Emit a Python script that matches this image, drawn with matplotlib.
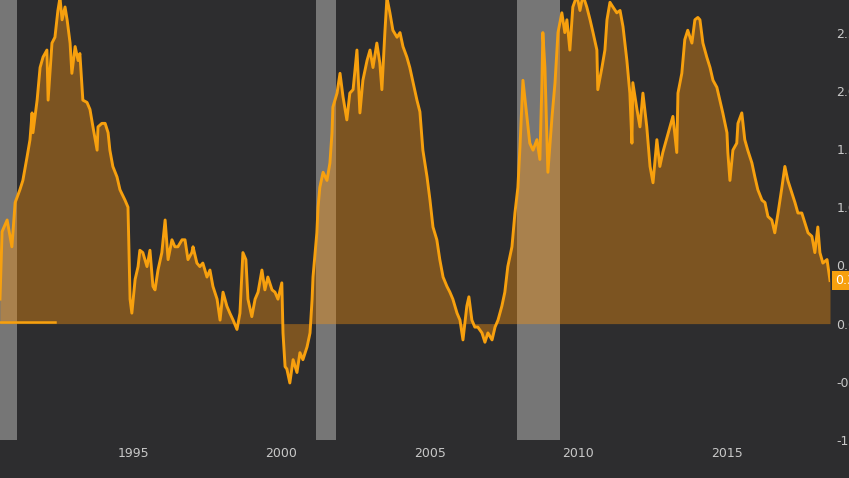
import matplotlib
matplotlib.use("Agg")
import matplotlib.pyplot as plt
import numpy as np

# ---- data (decimal years, 10y-2y spread in percentage points) ----
years = [
    1990.52, 1990.59, 1990.76, 1990.92, 1991.03, 1991.19, 1991.29, 1991.43, 1991.53, 1991.60,
    1991.63, 1991.77, 1991.87, 1991.97, 1992.10, 1992.14, 1992.27, 1992.37, 1992.47, 1992.54,
    1992.61, 1992.71, 1992.78, 1992.88, 1992.94, 1993.05, 1993.15, 1993.21, 1993.31, 1993.45,
    1993.55, 1993.65, 1993.79, 1993.82, 1993.95, 1994.06, 1994.16, 1994.22, 1994.32, 1994.46,
    1994.56, 1994.73, 1994.83, 1994.90, 1994.96, 1995.07, 1995.17,
    1995.23, 1995.33, 1995.47, 1995.57, 1995.67, 1995.74, 1995.84, 1995.97, 1996.08, 1996.18,
    1996.31, 1996.41, 1996.51, 1996.65, 1996.75, 1996.85, 1996.98, 1997.02, 1997.15, 1997.25,
    1997.35, 1997.49, 1997.59, 1997.69, 1997.83, 1997.93, 1998.03, 1998.16, 1998.26, 1998.37,
    1998.50, 1998.60, 1998.70, 1998.80, 1998.87, 1999.00, 1999.11, 1999.21, 1999.34, 1999.44,
    1999.54, 1999.68, 1999.78, 1999.88, 2000.01, 2000.05, 2000.12,
    2000.18, 2000.28, 2000.39, 2000.52, 2000.62, 2000.72, 2000.86, 2000.96, 2001.03, 2001.06,
    2001.13, 2001.19, 2001.23, 2001.29, 2001.40, 2001.53, 2001.63, 2001.70, 2001.73, 2001.87,
    2001.97, 2002.07, 2002.20, 2002.30, 2002.41, 2002.54, 2002.64, 2002.74, 2002.88, 2002.98,
    2003.08, 2003.21, 2003.31, 2003.38, 2003.48, 2003.55, 2003.65, 2003.75, 2003.89, 2003.99,
    2004.09, 2004.22, 2004.32, 2004.43, 2004.56, 2004.66, 2004.76, 2004.90, 2005.00, 2005.10,
    2005.23, 2005.33, 2005.44, 2005.57, 2005.67, 2005.77, 2005.91, 2006.01, 2006.11, 2006.24,
    2006.31, 2006.41, 2006.51, 2006.61, 2006.75, 2006.85, 2006.95, 2007.09, 2007.19, 2007.29,
    2007.42, 2007.52, 2007.62, 2007.76, 2007.86, 2007.96, 2008.03, 2008.10, 2008.13, 2008.26,
    2008.36, 2008.47, 2008.60, 2008.70, 2008.77, 2008.80, 2008.87, 2008.97, 2009.11, 2009.21,
    2009.31, 2009.44,
    2009.54, 2009.61, 2009.71, 2009.81, 2009.95, 2010.05, 2010.15, 2010.28, 2010.39, 2010.49,
    2010.62, 2010.65, 2010.79, 2010.89, 2010.96, 2011.06, 2011.16, 2011.29, 2011.40, 2011.50,
    2011.63, 2011.73, 2011.80, 2011.83, 2011.97, 2012.07, 2012.17, 2012.30, 2012.41, 2012.51,
    2012.64, 2012.74, 2012.84, 2012.98, 2013.08, 2013.18, 2013.31, 2013.35, 2013.48, 2013.58,
    2013.68, 2013.82, 2013.92, 2014.02, 2014.09, 2014.19, 2014.32, 2014.43, 2014.53, 2014.66,
    2014.76, 2014.86, 2015.00, 2015.03, 2015.10, 2015.20, 2015.33, 2015.37, 2015.50, 2015.60,
    2015.70, 2015.84, 2015.94, 2016.04, 2016.18, 2016.28, 2016.38, 2016.51, 2016.61, 2016.72,
    2016.85, 2016.95, 2017.05, 2017.19, 2017.29, 2017.39, 2017.52, 2017.62, 2017.73, 2017.86,
    2017.96, 2018.06, 2018.13, 2018.23, 2018.37, 2018.47,
]
spread = [
    0.21, 0.79, 0.89, 0.66, 1.04, 1.15, 1.23, 1.43, 1.58, 1.81,
    1.64, 1.92, 2.20, 2.29, 2.35, 1.92, 2.41, 2.46, 2.69, 2.80,
    2.61, 2.72, 2.61, 2.41, 2.15, 2.38, 2.26, 2.32, 1.92, 1.90,
    1.84, 1.69, 1.49, 1.69, 1.72, 1.72, 1.64, 1.49, 1.35, 1.26,
    1.15, 1.06, 1.00, 0.21, 0.09, 0.38, 0.49,
    0.63, 0.61, 0.49, 0.63, 0.32, 0.29, 0.46, 0.61, 0.89, 0.55,
    0.72, 0.66, 0.66, 0.72, 0.72, 0.55, 0.61, 0.66, 0.52, 0.49,
    0.52, 0.40, 0.46, 0.32, 0.21, 0.03, 0.27, 0.15, 0.09, 0.03,
    -0.05, 0.09, 0.61, 0.55, 0.21, 0.06, 0.21, 0.27, 0.46, 0.29,
    0.40, 0.29, 0.27, 0.21, 0.35, -0.08, -0.37,
    -0.39, -0.51, -0.31, -0.42, -0.25, -0.31, -0.20, -0.08, 0.21, 0.40,
    0.61, 0.78, 1.00, 1.17, 1.30, 1.23, 1.38, 1.64, 1.86, 1.98,
    2.15, 1.95, 1.75, 1.98, 2.01, 2.35, 1.81, 2.09, 2.26, 2.35,
    2.20, 2.41, 2.24, 2.01, 2.50, 2.80, 2.67, 2.52, 2.46, 2.50,
    2.38, 2.29, 2.20, 2.07, 1.92, 1.82, 1.49, 1.26, 1.06, 0.83,
    0.72, 0.55, 0.40, 0.32, 0.27, 0.21, 0.09, 0.03, -0.14, 0.15,
    0.23, 0.03, -0.03, -0.03, -0.08, -0.16, -0.08, -0.14, -0.03, 0.03,
    0.15, 0.27, 0.49, 0.66, 0.95, 1.17, 1.52, 1.92, 2.09, 1.78,
    1.55, 1.49, 1.58, 1.41, 2.07, 2.50, 2.20, 1.30, 1.78, 2.07,
    2.50, 2.67,
    2.50, 2.61, 2.35, 2.72, 2.82, 2.69, 2.82, 2.72, 2.61, 2.50,
    2.35, 2.01, 2.20, 2.35, 2.61, 2.76, 2.72, 2.67, 2.69, 2.55,
    2.26, 1.98, 1.55, 2.07, 1.84, 1.69, 1.98, 1.69, 1.35, 1.21,
    1.58, 1.35, 1.47, 1.60, 1.69, 1.78, 1.47, 1.98, 2.15, 2.44,
    2.52, 2.41, 2.61, 2.63, 2.61, 2.41, 2.29, 2.20, 2.09, 2.03,
    1.92, 1.81, 1.64, 1.47, 1.23, 1.49, 1.55, 1.72, 1.81, 1.58,
    1.49, 1.38, 1.26, 1.15, 1.06, 1.04, 0.92, 0.89, 0.78, 0.95,
    1.17, 1.35, 1.23, 1.12, 1.04, 0.95, 0.95, 0.87, 0.78, 0.75,
    0.61, 0.83, 0.61, 0.52, 0.55, 0.37,
]

recession_start = [1990.52, 2001.17, 2007.92]
recession_end = [1991.10, 2001.84, 2009.37]

marker_years = [1990.52, 1992.37]
marker_values = [0.015, 0.015]

last_value_label = "0.34"

x_ticks = [1995, 2000, 2005, 2010, 2015]
x_tick_labels = ["1995", "2000", "2005", "2010", "2015"]
y_ticks = [2.5, 2.0, 1.5, 1.0, 0.5, 0.0, -0.5, -1.0]
y_tick_labels = ["2.50", "2.00", "1.50", "1.00", "0.50", "0.00", "-0.50", "-1.00"]

# ---- styling ----
BG = "#2d2d2f"
ORANGE = "#f7a00e"
FILL = "#fd950c"
GRAY = "#767676"
TEXT = "#c8c8c8"

fig = plt.figure(figsize=(8.49, 4.78), dpi=100, facecolor=BG)
ax = fig.add_axes([0.0, 38 / 478, 830 / 849, 1 - 38 / 478])
ax.set_facecolor(BG)

for s, e in zip(recession_start, recession_end):
    ax.axvspan(s, e, color=GRAY, lw=0, zorder=1)

x = np.array(years)
y = np.array(spread)
ax.fill_between(x, y, 0, color=FILL, alpha=0.38, lw=0, zorder=2)
ax.plot(x, y, color=ORANGE, lw=2.1, zorder=3, solid_joinstyle="round")
ax.plot(marker_years, marker_values, color=ORANGE, lw=1.8, zorder=3)

ax.set_xlim(1990.52, 2018.47)
ax.set_ylim(-1.0, 2.78)

for sp in ax.spines.values():
    sp.set_visible(False)

ax.set_xticks(x_ticks)
ax.set_xticklabels(x_tick_labels)
ax.yaxis.tick_right()
ax.set_yticks(y_ticks)
ax.set_yticklabels(y_tick_labels)
ax.tick_params(axis="both", length=0, colors=TEXT, labelsize=9)
ax.tick_params(axis="x", pad=5)
ax.tick_params(axis="y", pad=4.5)
for lbl in ax.get_yticklabels():
    lbl.set_clip_on(False)

# last value tag on the right axis
ax.annotate(last_value_label, xy=(1.0, y[-1]), xycoords=("axes fraction", "data"),
            xytext=(4, 0), textcoords="offset points", va="center", ha="left",
            color="white", fontsize=9,
            bbox=dict(boxstyle="square,pad=0.25", fc=ORANGE, ec="none"),
            annotation_clip=False, zorder=5)

fig.savefig("out.png", dpi=100, facecolor=BG)
